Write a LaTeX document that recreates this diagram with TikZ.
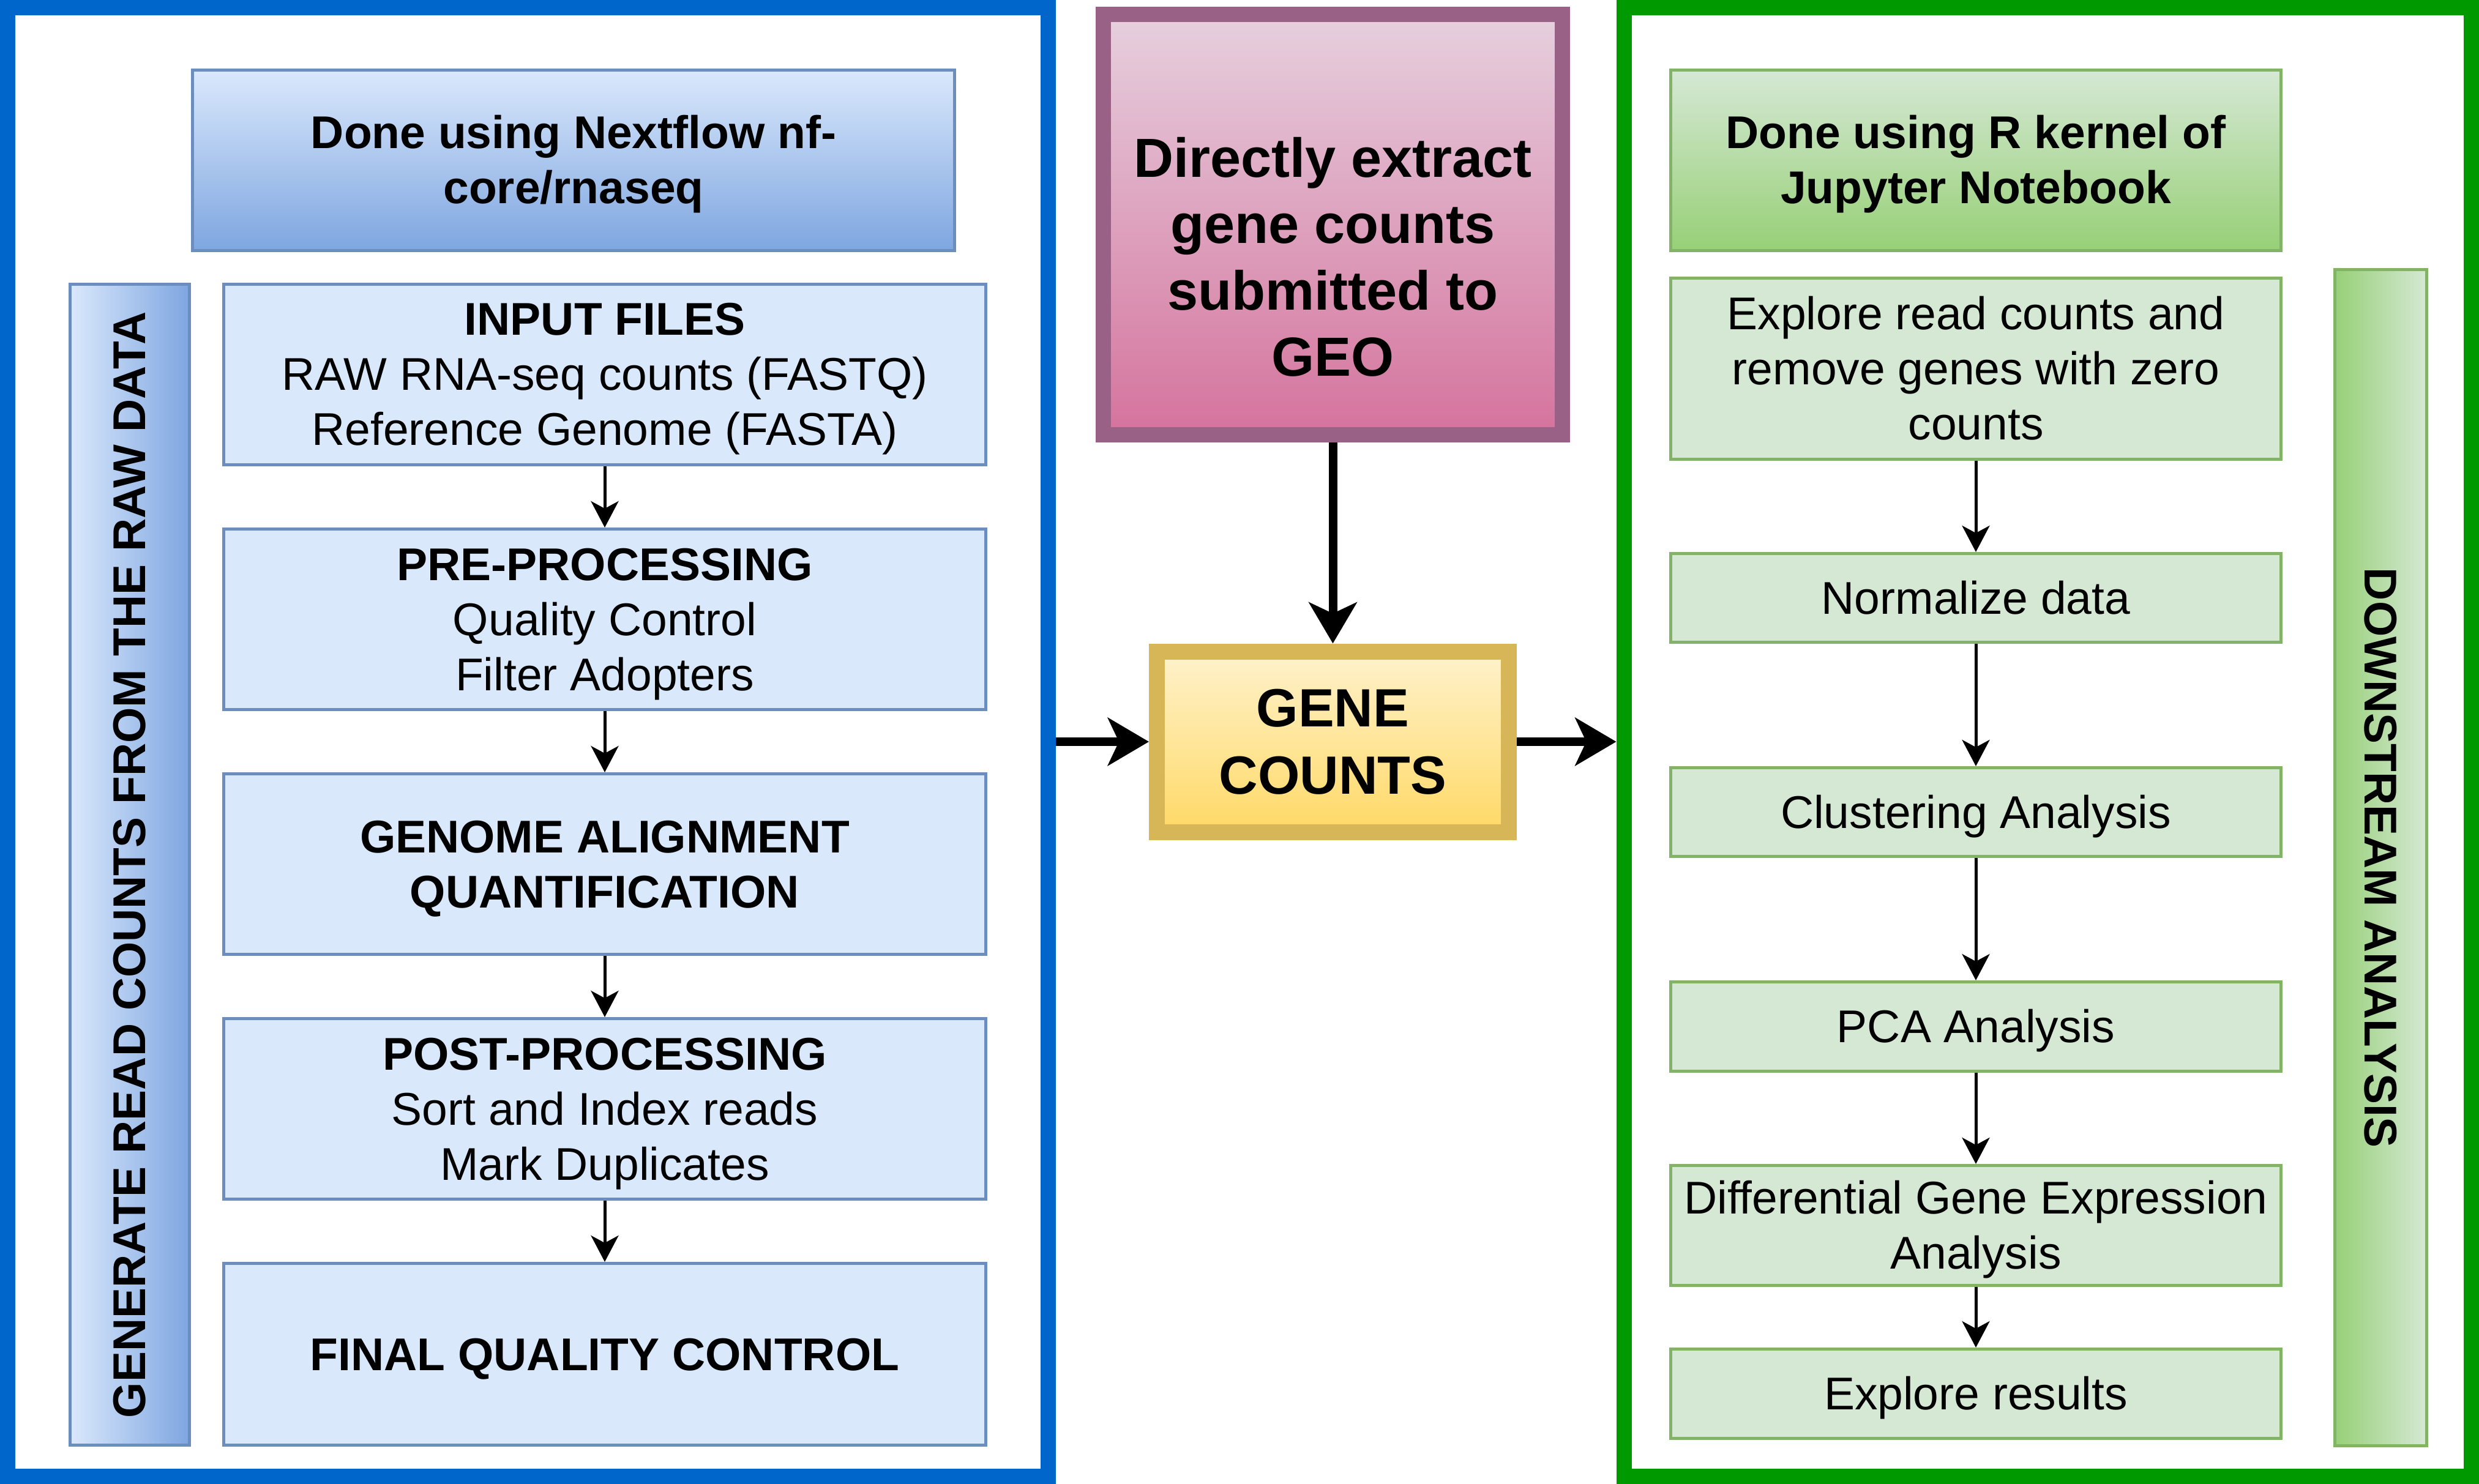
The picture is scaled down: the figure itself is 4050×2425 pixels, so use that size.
\documentclass[tikz,border=0pt]{standalone}
\usepackage{fontspec}
\setmainfont{Liberation Sans}
\usetikzlibrary{arrows.meta}
\definecolor{bluefr}{HTML}{0066CC}
\definecolor{greenfr}{HTML}{009900}
\definecolor{bluebd}{HTML}{6C8EBF}
\definecolor{bluefill}{HTML}{DAE8FC}
\definecolor{bluedark}{HTML}{7EA6E0}
\definecolor{greenbd}{HTML}{82B366}
\definecolor{greenfill}{HTML}{D5E8D4}
\definecolor{greendark}{HTML}{97D077}
\definecolor{pinkbd}{HTML}{996185}
\definecolor{pinktop}{HTML}{E6D0DE}
\definecolor{pinkbot}{HTML}{D5739D}
\definecolor{goldbd}{HTML}{D6B656}
\definecolor{goldtop}{HTML}{FFF2CC}
\definecolor{goldbot}{HTML}{FFD966}
\newcommand{\lnstrut}{\rule[-0.2535em]{0pt}{1.2em}}
\tikzset{
  frame/.style={draw, line width=25pt, inner sep=0pt, minimum height=2400pt},
  box/.style={draw, line width=5pt, inner sep=0pt, align=center,
    font=\fontsize{75}{90}\selectfont},
  bluebox/.style={box, draw=bluebd, fill=bluefill, minimum width=1245pt},
  greenbox/.style={box, draw=greenbd, fill=greenfill, minimum width=997pt},
  boldtxt/.style={font=\fontsize{75}{90}\selectfont\bfseries},
  smallarrow/.style={line width=5pt, -{Stealth[length=43pt,width=45pt,inset=12pt]}},
  bigarrow/.style={line width=14pt, -{Stealth[length=67pt,width=78pt,inset=18pt]}},
}
\begin{document}
\begin{tikzpicture}[x=1pt,y=-1pt]
\useasboundingbox (0,0) rectangle (4050,2425);
% frames
\node[frame, draw=bluefr, minimum width=1699.5pt] (bframe) at (862.25,1212.5) {};
\node[frame, draw=greenfr, minimum width=1384.5pt] (gframe) at (3345.25,1212.5) {};

% left column
\node[box, draw=bluebd, top color=bluefill, bottom color=bluedark, minimum width=1245pt,
  minimum height=295pt, boldtxt] (bhead) at (937,262)
  {\lnstrut Done using Nextflow nf-\\\lnstrut core/rnaseq};
\node[box, draw=bluebd, left color=bluefill, right color=bluedark, minimum width=195pt,
  minimum height=1897pt] (bbar) at (212,1413) {};
\node[rotate=90, boldtxt, inner sep=0pt] (bbartxt) at (212,1413) {GENERATE READ COUNTS FROM THE RAW DATA};

\node[bluebox, minimum height=295pt] (b1) at (988,612)
  {\lnstrut{\bfseries INPUT FILES}\\\lnstrut RAW RNA-seq counts (FASTQ)\\\lnstrut Reference Genome (FASTA)};
\node[bluebox, minimum height=295pt] (b2) at (988,1012)
  {\lnstrut{\bfseries PRE-PROCESSING}\\\lnstrut Quality Control\\\lnstrut Filter Adopters};
\node[bluebox, minimum height=295pt, boldtxt] (b3) at (988,1412)
  {\lnstrut GENOME ALIGNMENT\\\lnstrut QUANTIFICATION};
\node[bluebox, minimum height=295pt] (b4) at (988,1812)
  {\lnstrut{\bfseries POST-PROCESSING}\\\lnstrut Sort and Index reads\\\lnstrut Mark Duplicates};
\node[bluebox, minimum height=297pt, boldtxt] (b5) at (988,2213)
  {\lnstrut FINAL QUALITY CONTROL};
\draw[smallarrow] (b1) -- (b2);
\draw[smallarrow] (b2) -- (b3);
\draw[smallarrow] (b3) -- (b4);
\draw[smallarrow] (b4) -- (b5);

% middle
\node[draw=pinkbd, line width=25pt, top color=pinktop, bottom color=pinkbot,
  minimum width=750pt, minimum height=687pt, inner sep=0pt] (geo) at (2177.5,367) {};
\node[align=center, inner sep=0pt, font=\fontsize{90}{108.5}\selectfont\bfseries] (geotxt)
  at (2177.5,421) {\lnstrut Directly extract\\\lnstrut gene counts\\\lnstrut submitted to\\\lnstrut GEO};
\node[draw=goldbd, line width=26pt, top color=goldtop, bottom color=goldbot,
  minimum width=575pt, minimum height=295pt, inner sep=0pt, align=center,
  font=\fontsize{88}{110}\selectfont\bfseries] (gene) at (2177.5,1212) {\lnstrut GENE\\\lnstrut COUNTS};
\draw[bigarrow] (geo) -- (gene);
\draw[bigarrow] (bframe.east |- gene.west) -- (gene.west);
\draw[bigarrow] (gene.east) -- (gframe.west |- gene.east);

% right column
\node[box, draw=greenbd, top color=greenfill, bottom color=greendark, minimum width=997pt,
  minimum height=295pt, boldtxt] (ghead) at (3228,262)
  {\lnstrut Done using R kernel of\\\lnstrut Jupyter Notebook};
\node[box, draw=greenbd, left color=greendark, right color=greenfill, minimum width=150pt,
  minimum height=1922pt] (gbar) at (3889.5,1401.5) {};
\node[rotate=-90, boldtxt, inner sep=0pt] (gbartxt) at (3889.5,1401.5) {DOWNSTREAM ANALYSIS};

\node[greenbox, minimum height=296pt] (g1) at (3228,602.5)
  {\lnstrut Explore read counts and\\\lnstrut remove genes with zero\\\lnstrut counts};
\node[greenbox, minimum height=145pt] (g2) at (3228,977) {\lnstrut Normalize data};
\node[greenbox, minimum height=145pt] (g3) at (3228,1327) {\lnstrut Clustering Analysis};
\node[greenbox, minimum height=146pt] (g4) at (3228,1677.5) {\lnstrut PCA Analysis};
\node[greenbox, minimum height=196pt] (g5) at (3228,2002.5)
  {\lnstrut Differential Gene Expression\\\lnstrut Analysis};
\node[greenbox, minimum height=146pt] (g6) at (3228,2277.5) {\lnstrut Explore results};
\draw[smallarrow] (g1) -- (g2);
\draw[smallarrow] (g2) -- (g3);
\draw[smallarrow] (g3) -- (g4);
\draw[smallarrow] (g4) -- (g5);
\draw[smallarrow] (g5) -- (g6);
\end{tikzpicture}
\end{document}
